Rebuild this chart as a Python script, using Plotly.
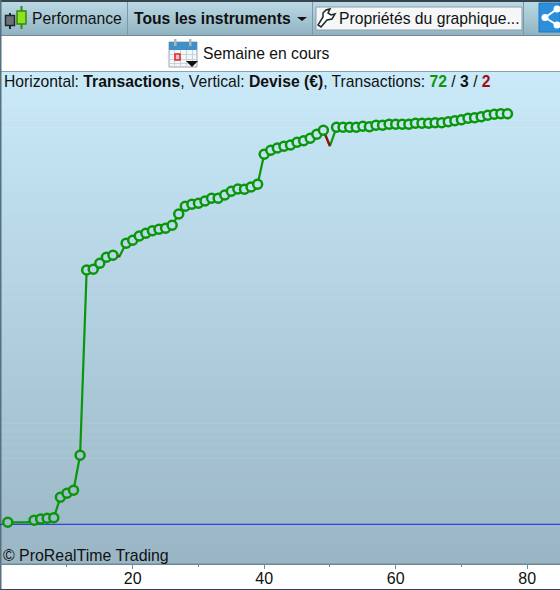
import plotly.graph_objects as go

W, H = 560, 590

# Trade number
trades = list(range(1, 78))
# Cumulative result (chart has no value axis, zero = blue line)
equity = [2.0, 2.0, 2.0, 2.0, 4.0, 5.3, 6.0, 6.6, 27.0, 31.0, 34.0, 69.0,
          254.3, 255.0, 261.0, 267.0, 269.0, 268.0, 281.0, 284.0, 288.3, 291.0,
          293.6, 295.0, 296.0, 299.0, 310.3, 318.0, 320.0, 321.0, 323.3, 326.0,
          326.0, 329.3, 333.0, 335.3, 335.0, 337.3, 340.0, 370.0, 374.0, 376.3,
          378.0, 379.3, 382.0, 383.6, 386.0, 390.0, 394.0, 378.3, 397.0, 397.0,
          397.0, 397.0, 398.0, 397.6, 399.0, 399.0, 400.0, 400.0, 400.0, 400.0,
          401.0, 401.0, 401.0, 401.6, 401.6, 402.6, 403.6, 404.6, 406.0, 406.6,
          407.6, 409.0, 410.0, 410.6, 410.6]
# Trades drawn without a marker
neutral_trades = [2, 3, 4]
losing_trades = [18, 50]
tick_values = [20, 40, 60, 80]
minor_tick_values = [10, 30, 50, 70]
tick_labels = ["20", "40", "60", "80"]

TOP, BOTTOM = 71, 564
Y_MIN, Y_MAX = 524.3 - BOTTOM, 524.3 - TOP
GREEN, RED = "#0a960a", "#a00a14"
FONT = "Liberation Sans, Arial"
TEXT_SIZE = 15.7


def px(x):
    return x / W


def py(y):
    return 1 - y / H


def mix(c1, c2, t):
    return "rgb(%d,%d,%d)" % tuple(round(a + (b - a) * t) for a, b in zip(c1, c2))


BG_TOP, BG_BOT = (202, 234, 249), (154, 182, 197)
TB_TOP, TB_BOT = (186, 216, 228), (146, 180, 194)


def bg_at(ypx):
    return mix(BG_TOP, BG_BOT, (ypx - TOP) / (BOTTOM - TOP))


shapes = []


def rect(x0, y0, x1, y1, fill, line=None, lw=1, layer="below"):
    shapes.append(dict(type="rect", xref="paper", yref="paper", x0=px(x0), x1=px(x1),
                       y0=py(y1), y1=py(y0), fillcolor=fill, layer=layer,
                       line=dict(color=line or "rgba(0,0,0,0)", width=lw if line else 0)))


def hline(x0, x1, y, color, lw=1, layer="below"):
    shapes.append(dict(type="line", xref="paper", yref="paper", x0=px(x0), x1=px(x1),
                       y0=py(y), y1=py(y), line=dict(color=color, width=lw), layer=layer))


def vline(x, y0, y1, color, lw=1, layer="below"):
    shapes.append(dict(type="line", xref="paper", yref="paper", x0=px(x), x1=px(x),
                       y0=py(y0), y1=py(y1), line=dict(color=color, width=lw), layer=layer))


def path(points, fill=None, line="rgba(0,0,0,0)", lw=1, closed=True):
    d = "M " + " L ".join(f"{px(a):.5f},{py(b):.5f}" for a, b in points) + (" Z" if closed else "")
    shapes.append(dict(type="path", xref="paper", yref="paper", path=d,
                       fillcolor=fill or "rgba(0,0,0,0)", line=dict(color=line, width=lw), layer="above"))


def circle(cx, cy, r, fill, line=None, lw=1):
    shapes.append(dict(type="circle", xref="paper", yref="paper", x0=px(cx - r), x1=px(cx + r),
                       y0=py(cy + r), y1=py(cy - r), fillcolor=fill, layer="above",
                       line=dict(color=line or "rgba(0,0,0,0)", width=lw if line else 0)))


# page and toolbar
rect(0, 0, W, H, "white")
rect(0, 0, W, 2, "#36454d")
for i in range(33):
    rect(0, 2 + i, W, 3 + i, mix(TB_TOP, TB_BOT, i / 32))
hline(0, W, 35.5, "#6f8a97")
for x in (127.5, 312.5, 523.5):
    vline(x, 2, 35, "#7d98a4")
# plot background
n = 70
for i in range(n):
    y0 = TOP + (BOTTOM - TOP) * i / n
    y1 = TOP + (BOTTOM - TOP) * (i + 1) / n
    rect(0, y0, W, y1 + 0.5, bg_at((y0 + y1) / 2))
hline(0, W, 71.5, "#8aa2ae")
hline(0, W, 564.5, "#6f8a97")
rect(0, 0, 1.5, H, "#55707e")
hline(0, W, 589.5, "#36454d")

# property button
rect(316, 7, 522, 30, "#f4f6f7", "#8d9fa8", 1)
# share button
rect(539, 3, 560, 32, "#2d8fdb", "#1f78bd", 1)
circle(545, 17.5, 3.5, "white")
circle(557, 9, 3.5, "white")
circle(557, 25, 3.5, "white")
path([(545, 17.5), (557, 9)], line="white", lw=2, closed=False)
path([(545, 17.5), (557, 25)], line="white", lw=2, closed=False)
# dropdown arrow
path([(297, 17), (307, 17), (302, 21)], fill="#111111")

# candlestick icon
vline(10, 13, 29, "#20282c", 2, "above")
rect(5.5, 15.5, 14.5, 25.5, "#6b7378", "#20282c", 1.5, "above")
vline(21.5, 6, 29, "#2f8a10", 2, "above")
rect(17, 11, 26, 24, "#8fe01e", "#2f8a10", 1.5, "above")

# wrench icon
path([(318, 25), (321, 27), (327, 20), (332, 19), (335, 14), (331, 15), (328, 13), (330, 9),
      (326, 10), (323, 13), (323, 17)], fill="white", line="#20282c", lw=1.5)

# calendar icon
rect(169, 42, 197, 67, "#f4f6f7", "#9aa6ac", 1, "above")
rect(169, 42, 197, 50, "#3f8fc9", None, 1, "above")
for x in (174.5, 180.5, 186.5, 192.5):
    vline(x, 50, 67, "#c5d3dc", 1, "above")
for y in (54.5, 59.5, 63.5):
    hline(169, 197, y, "#c5d3dc", 1, "above")
rect(175, 54, 180, 60, "#f6c8c8", "#e8202a", 1.5, "above")
rect(174, 39, 176.5, 46, "#aeb6ba", None, 1, "above")
rect(189, 39, 191.5, 46, "#aeb6ba", None, 1, "above")
path([(186, 61), (198, 61), (192, 67)], fill="#111111")


def note(text, x, y, size=TEXT_SIZE, anchor="left", color="#111111"):
    return dict(text=text, x=px(x - 2), y=py(y), xref="paper", yref="paper", xanchor=anchor,
                yanchor="middle", showarrow=False, align="left",
                font=dict(family=FONT, size=size, color=color))


annotations = [
    note("Performance", 32, 18.5),
    note("<b>Tous les instruments</b>", 133.5, 18.5),
    note("Propriétés du graphique...", 339, 18.5),
    note("Semaine en cours", 203, 53.5),
    note("Horizontal: <b>Transactions</b>, Vertical: <b>Devise (€)</b>, Transactions: "
         f"<b><span style='color:#0a960a'>72</span></b> / <b>3</b> / "
         f"<b><span style='color:#a00a14'>2</span></b>", 3.5, 81.5),
    note("© ProRealTime Trading", 3, 555.5, size=15.9),
]

fig = go.Figure()
fig.add_trace(go.Scatter(x=trades, y=equity, mode="lines", hoverinfo="skip",
                         line=dict(color=GREEN, width=2.2)))
for t in losing_trades:
    i = trades.index(t)
    fig.add_trace(go.Scatter(x=trades[i - 1:i + 1], y=equity[i - 1:i + 1], mode="lines",
                             line=dict(color=RED, width=2.2), hoverinfo="skip"))
skip = set(neutral_trades) | set(losing_trades)
mx = [t for t in trades if t not in skip]
my = [equity[t - 1] for t in trades if t not in skip]
fig.add_trace(go.Scatter(x=mx, y=my, mode="markers", hoverinfo="skip",
                         marker=dict(size=9, color=[bg_at(524.3 - v) for v in my],
                                     line=dict(color=GREEN, width=2.5))))

shapes.append(dict(type="line", xref="paper", yref="y", x0=0, x1=1, y0=0, y1=0,
                   line=dict(color="#2020e8", width=1), layer="below"))
shapes.append(dict(type="line", xref="paper", yref="paper", x0=0, x1=1, y0=py(BOTTOM), y1=py(BOTTOM),
                   line=dict(color="#6f8a97", width=1), layer="above"))

SCALE = 6.575
fig.update_layout(
    width=W, height=H, margin=dict(l=0, r=0, t=0, b=0), showlegend=False,
    paper_bgcolor="white", plot_bgcolor="rgba(0,0,0,0)",
    shapes=shapes, annotations=annotations,
    xaxis=dict(domain=[0, 1], range=[(0 - 132.7) / SCALE + 20, (560 - 132.7) / SCALE + 20],
               tickmode="array", tickvals=tick_values, ticktext=tick_labels,
               ticks="outside", ticklen=4, tickcolor="#6f8a97", showgrid=False, zeroline=False,
               showline=False, ticklabelstandoff=-4,
               tickfont=dict(family=FONT, size=16, color="#111111"),
               minor=dict(tickmode="array", tickvals=minor_tick_values, ticks="outside", ticklen=2,
                          tickcolor="#6f8a97", showgrid=False)),
    yaxis=dict(domain=[py(BOTTOM), py(TOP)], range=[Y_MIN, Y_MAX], visible=False),
)

fig.write_html("out.html", config=dict(displayModeBar=False),
               post_script="document.body.style.margin='0';document.body.style.overflow='hidden';")
